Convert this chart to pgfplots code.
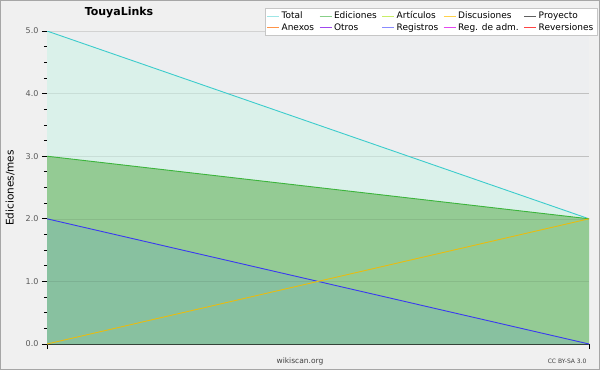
\documentclass[border=0pt]{standalone}
\usepackage{pgfplots}
\pgfplotsset{compat=1.18}
\usepackage{fontspec}
\setmainfont{DejaVu Sans}
\definecolor{outerbg}{HTML}{F0F0F0}
\definecolor{plotbg}{HTML}{EDEEF0}
\definecolor{totalfill}{HTML}{DAF1EA}
\definecolor{edfill}{HTML}{94CB94}
\definecolor{regfill}{HTML}{88C1A0}
\definecolor{totalline}{HTML}{3CCCCC}
\definecolor{edline}{HTML}{3CB43C}
\definecolor{regline}{HTML}{3A3AF0}
\definecolor{discline}{HTML}{E8BC10}
\definecolor{lgA}{HTML}{9EE6E6}
\definecolor{lgB}{HTML}{88CF88}
\definecolor{lgC}{HTML}{C8EE66}
\definecolor{lgD}{HTML}{FFD24A}
\definecolor{lgE}{HTML}{606060}
\definecolor{lgF}{HTML}{FF9448}
\definecolor{lgG}{HTML}{A048EE}
\definecolor{lgH}{HTML}{8A8AFF}
\definecolor{lgI}{HTML}{E448F0}
\definecolor{lgJ}{HTML}{FF4444}
\begin{document}
\begin{tikzpicture}
\useasboundingbox (0,0) rectangle (600pt,370pt);
\draw[fill=outerbg, draw=gray!70, line width=1pt] (0.5pt,0.5pt) rectangle (599.5pt,369.5pt);
\begin{axis}[
  at={(47pt,26pt)}, anchor=south west,
  scale only axis, width=542pt, height=313pt,
  xmin=0, xmax=1, ymin=0, ymax=5,
  axis background/.style={fill=plotbg},
  axis x line=bottom, axis y line=left,
  axis line style={-, black, line width=0.8pt},
  xtick={0,1}, xticklabels={},
  ytick={0,1,2,3,4,5},
  minor y tick num=3,
  tick align=outside,
  major tick length=5pt, minor tick length=3pt,
  tick style={black, line width=0.8pt},
  ymajorgrids, major grid style={draw=gray!35, line width=0.6pt},
  yticklabel style={font=\fontsize{8}{9}\selectfont, text=black!65},
  /pgf/number format/.cd, fixed, fixed zerofill, precision=1, assume math mode=true,
  /pgfplots/.cd,
  legend columns=5,
  legend style={at={(1.0148,1.0735)}, anchor=north east, draw=gray!45, fill=white,
    font=\fontsize{9}{10}\selectfont, inner sep=1.5pt, row sep=-1pt,
    /tikz/every even column/.append style={column sep=3pt}},
  legend cell align=left,
  legend image code/.code={\draw[#1, line width=0.9pt] (0pt,0pt) -- (12pt,0pt);},
]
\addplot[fill=totalfill, draw=none, forget plot] coordinates {(0,5) (1,2)} \closedcycle;
\addplot[fill=edfill, draw=none, forget plot] coordinates {(0,3) (1,2)} \closedcycle;
\addplot[fill=regfill, draw=none, forget plot] coordinates {(0,2) (1,0)} \closedcycle;
\addplot[black, opacity=0.08, line width=0.6pt, forget plot] coordinates {(0,1) (1,1)};
\addplot[black, opacity=0.08, line width=0.6pt, forget plot] coordinates {(0,2) (1,2)};
\addplot[black, opacity=0.08, line width=0.6pt, forget plot] coordinates {(0,3) (1,3)};
\addplot[black, opacity=0.08, line width=0.6pt, forget plot] coordinates {(0,4) (1,4)};
\addplot[totalline, line width=0.9pt, forget plot] coordinates {(0,5) (1,2)};
\addplot[edline, line width=0.9pt, forget plot] coordinates {(0,3) (1,2)};
\addplot[regline, line width=0.9pt, forget plot] coordinates {(0,2) (1,0)};
\addplot[discline, line width=0.9pt, forget plot] coordinates {(0,0) (1,2)};
\addlegendimage{lgA}
\addlegendimage{lgB}
\addlegendimage{lgC}
\addlegendimage{lgD}
\addlegendimage{lgE}
\addlegendimage{lgF}
\addlegendimage{lgG}
\addlegendimage{lgH}
\addlegendimage{lgI}
\addlegendimage{lgJ}
\legend{Total, Ediciones, Artículos, Discusiones, Proyecto, Anexos, Otros, Registros, Reg. de adm., Reversiones}
\end{axis}
\node[font=\bfseries\fontsize{11}{12}\selectfont] at (119pt,357pt) {TouyaLinks};
\node[rotate=90, font=\fontsize{10.5}{11}\selectfont] at (10pt,182pt) {Ediciones/mes};
\node[font=\fontsize{7.5}{8}\selectfont, text=black!75] at (300pt,9pt) {wikiscan.org};
\node[anchor=east, font=\fontsize{6}{7}\selectfont, text=black!75] at (590pt,9pt) {CC BY-SA 3.0};
\end{tikzpicture}
\end{document}
